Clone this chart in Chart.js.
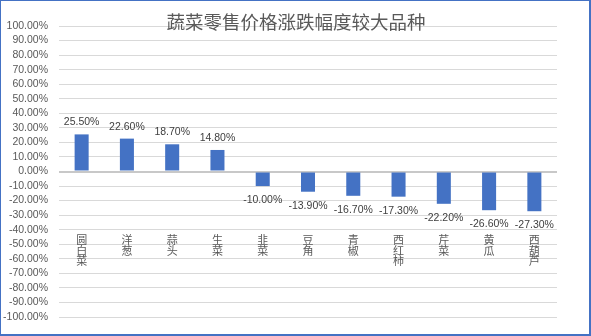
<!DOCTYPE html>
<html>
<head>
<meta charset="utf-8">
<script src="https://cdn.jsdelivr.net/npm/chart.js@4/dist/chart.umd.min.js"></script>
<style>
  html, body { margin: 0; padding: 0; background: #ffffff; }
  #wrap { width: 591px; height: 336px; }
</style>
</head>
<body>
<div id="wrap"><canvas id="priceChart" width="591" height="336"></canvas></div>
<script>
const chartTitle = "蔬菜零售价格涨跌幅度较大品种";
const categories = ["圆白菜", "洋葱", "蒜头", "生菜", "韭菜", "豆角", "青椒", "西红柿", "芹菜", "黄瓜", "西葫芦"];
const changePct = [25.5, 22.6, 18.7, 14.8, -10.0, -13.9, -16.7, -17.3, -22.2, -26.6, -27.3];
const yMin = -100;
const yMax = 100;
const yStep = 10;

const fmtPct = (v) => v.toFixed(2) + "%";

// stacked vertical category names, one character per line
const verticalLabels = categories.map((name) => Array.from(name));

const frameAndText = {
  id: "frameAndText",
  beforeDraw(chart) {
    const { ctx, width, height } = chart;
    ctx.save();
    ctx.fillStyle = "#ffffff";
    ctx.fillRect(0, 0, width, height);
    ctx.restore();
  },
  afterDatasetsDraw(chart) {
    const { ctx } = chart;
    const meta = chart.getDatasetMeta(0);
    ctx.save();
    ctx.font = "10.5px 'Liberation Sans', Arial, sans-serif";
    ctx.fillStyle = "#404040";
    ctx.textAlign = "center";
    ctx.textBaseline = "middle";
    meta.data.forEach((bar, i) => {
      const v = changePct[i];
      const y = v >= 0 ? bar.y - 12 : bar.y + 14;
      ctx.fillText(fmtPct(v), bar.x, y);
    });
    ctx.restore();
  },
  afterDraw(chart) {
    const { ctx, width, height } = chart;
    ctx.save();
    ctx.font = "18.5px 'Noto Sans CJK SC', sans-serif";
    ctx.fillStyle = "#595959";
    ctx.textAlign = "center";
    ctx.textBaseline = "middle";
    ctx.fillText(chartTitle, 296, 22);
    // chart frame
    ctx.fillStyle = "#4472c4";
    ctx.fillRect(0, 0, width, 1);
    ctx.fillRect(0, 0, 1, height);
    ctx.fillRect(width - 2, 0, 2, height);
    ctx.fillRect(0, height - 2, width, 2);
    ctx.restore();
  },
};

new Chart(document.getElementById("priceChart"), {
  type: "bar",
  data: {
    labels: verticalLabels,
    datasets: [
      {
        data: changePct,
        backgroundColor: "#4472c4",
        borderWidth: 0,
        categoryPercentage: 1,
        barPercentage: 0.31,
      },
    ],
  },
  options: {
    responsive: false,
    animation: false,
    devicePixelRatio: 1,
    layout: { padding: { top: 26, bottom: 19, right: 34, left: 0 } },
    plugins: {
      legend: { display: false },
      title: { display: false },
      tooltip: { enabled: false },
    },
    scales: {
      x: {
        type: "category",
        position: { y: -40 },
        grid: { display: false, drawTicks: false },
        border: { display: false },
        ticks: {
          color: "#595959",
          padding: 5,
          maxRotation: 0,
          minRotation: 0,
          autoSkip: false,
          font: { family: "'Noto Sans CJK SC', sans-serif", size: 11, lineHeight: 0.95 },
        },
      },
      y: {
        min: yMin,
        max: yMax,
        afterFit(scale) {
          scale.width = 59;
        },
        grid: {
          drawTicks: false,
          color: (c) => (c.tick && c.tick.value === 0 ? "#c8c8c8" : "#d9d9d9"),
          lineWidth: (c) => (c.tick && c.tick.value === 0 ? 2 : 1),
        },
        border: { display: false },
        ticks: {
          stepSize: yStep,
          autoSkip: false,
          padding: 11,
          color: "#595959",
          font: { family: "'Liberation Sans', Arial, sans-serif", size: 10.5 },
          callback: (v) => fmtPct(v),
        },
      },
    },
  },
  plugins: [frameAndText],
});
</script>
</body>
</html>
